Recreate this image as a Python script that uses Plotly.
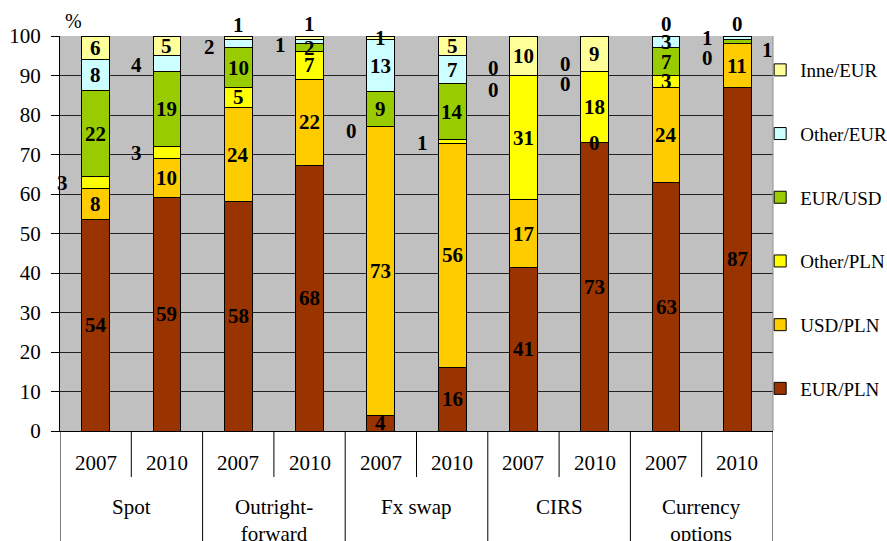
import plotly.graph_objects as go

# ---- data ----
groups = ["Spot", "Outright-<br>forward", "Fx swap", "CIRS", "Currency<br>options"]
years = ["2007", "2010"]
series_names = ["EUR/PLN", "USD/PLN", "Other/PLN", "EUR/USD", "Other/EUR", "Inne/EUR"]
eur_pln   = [54, 59, 58, 68, 4, 16, 41, 73, 63, 87]
usd_pln   = [8, 10, 24, 22, 73, 56, 17, 0, 24, 11]
other_pln = [3, 3, 5, 7, 0, 1, 31, 18, 3, 0]
eur_usd   = [22, 19, 10, 2, 9, 14, 0, 0, 7, 1]
other_eur = [8, 4, 2, 1, 13, 7, 0, 0, 3, 1]
inne_eur  = [6, 5, 1, 1, 1, 5, 10, 9, 0, 0]
y_ticks = list(range(0, 101, 10))

# ---- style ----
series_vals = [eur_pln, usd_pln, other_pln, eur_usd, other_eur, inne_eur]
colors = ["#993300", "#FFCC00", "#FFFF00", "#99CC00", "#CCFFFF", "#FFFF99"]
FONT = "Liberation Serif"
n_bars = len(groups) * len(years)
xs = list(range(n_bars))

# labels placed beside/above the bar: (bar, series) -> (dx px, dy px screen-down)
outside = {
    (0, 2): (-33, 0), (1, 2): (-30, 0), (1, 4): (-30, 1),
    (2, 4): (-29, 3), (2, 5): (0, -13), (3, 4): (-29, 3), (3, 5): (0, -14),
    (4, 2): (-29, 4), (5, 2): (-30, 1),
    (6, 3): (-30, 14), (6, 4): (-30, -8), (7, 3): (-29, 12), (7, 4): (-29, -8),
    (8, 5): (0, -12), (9, 2): (-30, 14), (9, 3): (-30, -4), (9, 4): (30, 12),
    (9, 5): (0, -12),
}

fig = go.Figure()
n_series = len(series_names)
for k, (name, vals, col) in enumerate(zip(series_names, series_vals, colors)):
    fig.add_trace(go.Bar(
        x=xs, y=vals, name=name, width=0.39,
        marker=dict(color=col, line=dict(color="black", width=1)),
        legendgroup=name, legendrank=n_series - k, hoverinfo="skip",
    ))

annotations = []
totals = [sum(s[i] for s in series_vals) for i in range(n_bars)]
for i in range(n_bars):
    cum = 0.0
    for k, vals in enumerate(series_vals):
        h = vals[i] / totals[i] * 100
        center = cum + h / 2
        dx, dy = outside.get((i, k), (0, 0))
        annotations.append(dict(
            x=i, y=center, xref="x", yref="y", text=f"<b>{vals[i]}</b>",
            showarrow=False, xanchor="center", yanchor="middle",
            xshift=dx, yshift=-dy,
            font=dict(family=FONT, size=21, color="black"),
        ))
        cum += h

# category labels
for gi, g in enumerate(groups):
    for yi, yr in enumerate(years):
        annotations.append(dict(
            x=gi * 2 + yi, y=-0.081, xref="x", yref="paper", text=yr,
            showarrow=False, xanchor="center", yanchor="middle",
            font=dict(family=FONT, size=21, color="black"),
        ))
    annotations.append(dict(
        x=gi * 2 + 0.5, y=-0.158, xref="x", yref="paper", text=g,
        showarrow=False, xanchor="center", yanchor="top",
        font=dict(family=FONT, size=21, color="black"),
    ))
annotations.append(dict(
    x=-0.5, y=1.0, xref="x", yref="paper", text="%", showarrow=False,
    xanchor="left", yanchor="bottom", xshift=3, yshift=2,
    font=dict(family=FONT, size=20, color="black"),
))

shapes = []
for b in range(len(groups) + 1):
    shapes.append(dict(type="line", xref="x", yref="paper",
                       x0=b * 2 - 0.5, x1=b * 2 - 0.5, y0=0, y1=-0.3,
                       line=dict(color="black", width=1)))
for gi in range(len(groups)):
    shapes.append(dict(type="line", xref="x", yref="paper",
                       x0=gi * 2 + 0.5, x1=gi * 2 + 0.5, y0=0, y1=-0.1165,
                       line=dict(color="black", width=1)))
shapes.append(dict(type="line", xref="paper", yref="paper",
                   x0=1, x1=1, y0=0, y1=1, line=dict(color="#909090", width=1)))

fig.update_layout(
    width=887, height=541,
    margin=dict(l=60, r=114, t=36, b=110, autoexpand=False),
    paper_bgcolor="white", plot_bgcolor="#C0C0C0",
    barmode="stack", barnorm="percent",
    font=dict(family=FONT, size=21, color="black"),
    xaxis=dict(range=[-0.5, n_bars - 0.5], showticklabels=False, ticks="",
               showgrid=False, zeroline=False, showline=True,
               linecolor="black", linewidth=1, fixedrange=True),
    yaxis=dict(range=[0, 100], tickvals=y_ticks, ticks="outside", ticklen=8,
               tickcolor="black", showline=True, linecolor="black", linewidth=1,
               gridcolor="#222222", gridwidth=1, zeroline=False,
               ticklabelstandoff=6, fixedrange=True,
               tickfont=dict(family=FONT, size=21, color="black")),
    legend=dict(x=0.982, xanchor="left", y=0.962, yanchor="top",
                traceorder="grouped", tracegroupgap=36,
                font=dict(family=FONT, size=19, color="black"),
                bgcolor="rgba(0,0,0,0)", itemclick=False, itemdoubleclick=False),
    annotations=annotations, shapes=shapes,
    showlegend=True,
)

fig.write_html(
    "out.html",
    config={"displayModeBar": False},
    post_script="document.body.style.margin='0';document.body.style.overflow='hidden';",
)
